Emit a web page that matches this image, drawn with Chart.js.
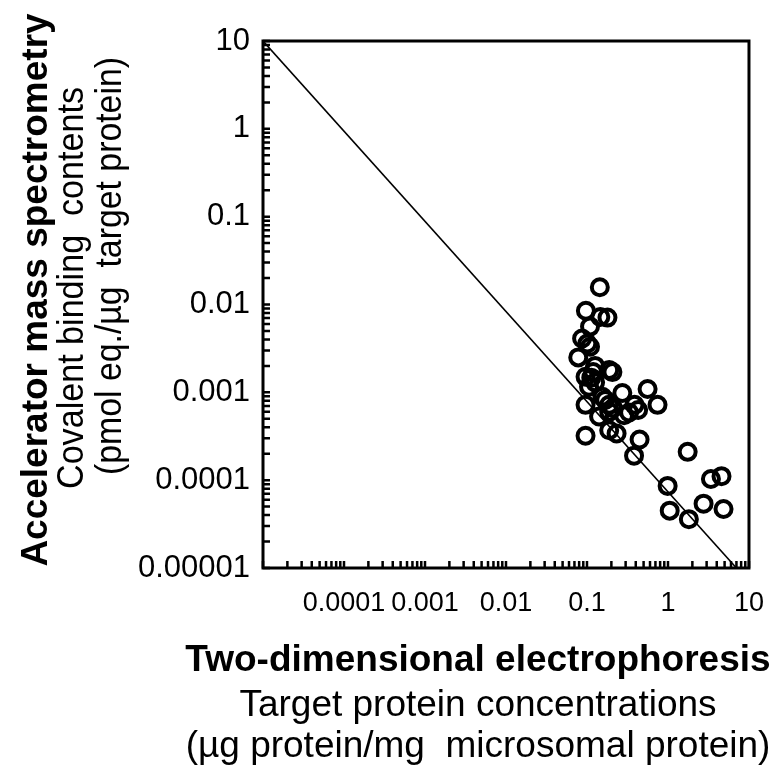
<!DOCTYPE html>
<html>
<head>
<meta charset="utf-8">
<script src="https://cdn.jsdelivr.net/npm/chart.js@4.4.1/dist/chart.umd.min.js"></script>
<style>
  html, body { margin: 0; padding: 0; background: #fff; }
</style>
</head>
<body>
<canvas id="scatterChart" width="775" height="767"></canvas>
<script>
// values (x: 2-DE concentration, y: AMS binding)
const proteinConc = [
  0.144, 0.097, 0.146, 0.179, 0.109, 0.087, 0.101, 0.109, 0.078, 0.126,
  0.188, 0.206, 0.096, 0.113, 0.119, 0.106, 0.56, 0.273, 0.155, 0.096,
  0.188, 0.386, 0.743, 0.428, 0.287, 0.141, 0.188, 0.188, 0.232, 0.096,
  0.446, 0.381, 1.75, 0.99, 3.39, 4.58, 2.75, 1.05, 1.81, 4.85,
  0.126, 0.168, 0.331, 0.21
];
const bindingContent = [
  0.0157, 0.0085, 0.0072, 0.0071, 0.0056, 0.0041, 0.0036, 0.0033, 0.0025, 0.0020,
  0.0018, 0.0017, 0.0015, 0.00147, 0.0017, 0.00116, 0.00109, 0.00098, 0.00089, 0.00072,
  0.00072, 0.00072, 0.00072, 0.00063, 0.00055, 0.00053, 0.0006, 0.00037, 0.00034, 0.00032,
  0.00029, 0.00019, 0.00021, 0.000086, 0.000103, 0.000111, 0.000054, 0.000045, 0.000036, 0.000047,
  0.0013, 0.00082, 0.00059, 0.00066
];

// end points of the drawn line
const fitX = [0.00001, 7];
const fitY = [10, 0.00001];

const xTickValues = [0.0001, 0.001, 0.01, 0.1, 1, 10];
const xTickLabels = ['0.0001', '0.001', '0.01', '0.1', '1', '10'];
const yTickValues = [0.00001, 0.0001, 0.001, 0.01, 0.1, 1, 10];
const yTickLabels = ['0.00001', '0.0001', '0.001', '0.01', '0.1', '1', '10'];

const xTitle = ['Two-dimensional electrophoresis', 'Target protein concentrations', '(µg protein/mg  microsomal protein)'];
const yTitle = ['Accelerator mass spectrometry', 'Covalent binding  contents', '(pmol eq./µg  target protein)'];

const FONT = "'Liberation Sans', Arial, sans-serif";

// 1..9 x 10^e for every decade between min and max
function logTicks(min, max) {
    const out = [];
    for (let e = Math.round(Math.log10(min)); e < Math.round(Math.log10(max)); e++) {
        for (let k = 1; k < 10; k++) out.push(Number((k * Math.pow(10, e)).toPrecision(3)));
    }
    out.push(max);
    return out.map(v => ({ value: v }));
}

function labelFor(values, labels, v) {
    const i = values.findIndex(t => Math.abs(Math.log10(t) - Math.log10(v)) < 1e-6);
    return i >= 0 ? labels[i] : '';
}

const frameTicks = {
    id: 'frameTicks',
    beforeDatasetsDraw(chart) {
        const { ctx, chartArea: a, scales: { x, y } } = chart;
        ctx.save();
        ctx.strokeStyle = '#000';
        ctx.lineWidth = 2.5;
        ctx.beginPath();
        x.ticks.forEach(t => {
            const px = x.getPixelForValue(t.value);
            ctx.moveTo(px, a.bottom);
            ctx.lineTo(px, a.bottom - 7);
        });
        y.ticks.forEach(t => {
            const py = y.getPixelForValue(t.value);
            ctx.moveTo(a.left, py);
            ctx.lineTo(a.left + 7, py);
        });
        ctx.stroke();
        ctx.restore();
    },
    afterDraw(chart) {
        const { ctx, chartArea: a } = chart;
        ctx.save();
        ctx.strokeStyle = '#000';
        ctx.lineWidth = 3;
        ctx.strokeRect(a.left, a.top, a.right - a.left, a.bottom - a.top);

        ctx.fillStyle = '#000';
        ctx.textAlign = 'center';
        ctx.textBaseline = 'alphabetic';
        const xBase = [671, 716, 757];
        xTitle.forEach((t, i) => {
            ctx.font = (i === 0 ? 'bold ' : '') + '37px ' + FONT;
            ctx.fillText(t, 478, xBase[i]);
        });
        const yBase = [47, 83, 121];
        const yMid = [290, 288, 266];
        const yMaxW = [560, 402, 418];
        yTitle.forEach((t, i) => {
            ctx.save();
            ctx.translate(yBase[i], yMid[i]);
            ctx.rotate(-Math.PI / 2);
            ctx.font = (i === 0 ? 'bold ' : '') + '37px ' + FONT;
            ctx.fillText(t, 0, 0, yMaxW[i]);
            ctx.restore();
        });
        ctx.restore();
    }
};

const ctx = document.getElementById('scatterChart').getContext('2d');

new Chart(ctx, {
    type: 'scatter',
    data: {
        datasets: [{
            data: proteinConc.map((v, i) => ({ x: v, y: bindingContent[i] })),
            pointStyle: 'circle',
            pointRadius: 8,
            pointHoverRadius: 8,
            pointBorderWidth: 4,
            pointBorderColor: '#000',
            pointBackgroundColor: 'rgba(0,0,0,0)'
        }, {
            data: fitX.map((v, i) => ({ x: v, y: fitY[i] })),
            showLine: true,
            pointRadius: 0,
            borderWidth: 1.6,
            borderColor: '#000'
        }]
    },
    options: {
        responsive: false,
        animation: false,
        layout: { padding: { top: 41, right: 25, left: 0, bottom: 0 } },
        elements: { point: { borderWidth: 4, radius: 8 } },
        plugins: {
            legend: { display: false },
            tooltip: { enabled: false }
        },
        scales: {
            x: {
                type: 'logarithmic',
                min: 0.00001,
                max: 10,
                grid: { display: false },
                border: { display: false },
                afterBuildTicks: s => { s.ticks = logTicks(0.00001, 10); },
                afterFit: s => { s.height = 199; },
                ticks: {
                    autoSkip: false,
                    maxRotation: 0,
                    minRotation: 0,
                    padding: 11,
                    color: '#000',
                    font: { family: FONT, size: 27 },
                    callback: v => labelFor(xTickValues, xTickLabels, v)
                }
            },
            y: {
                type: 'logarithmic',
                min: 0.00001,
                max: 10,
                grid: { display: false },
                border: { display: false },
                afterBuildTicks: s => { s.ticks = logTicks(0.00001, 10); },
                afterFit: s => { s.width = 263; },
                ticks: {
                    autoSkip: false,
                    padding: 5,
                    color: '#000',
                    font: { family: FONT, size: 31 },
                    callback: v => labelFor(yTickValues, yTickLabels, v)
                }
            }
        }
    },
    plugins: [frameTicks]
});
</script>
</body>
</html>
